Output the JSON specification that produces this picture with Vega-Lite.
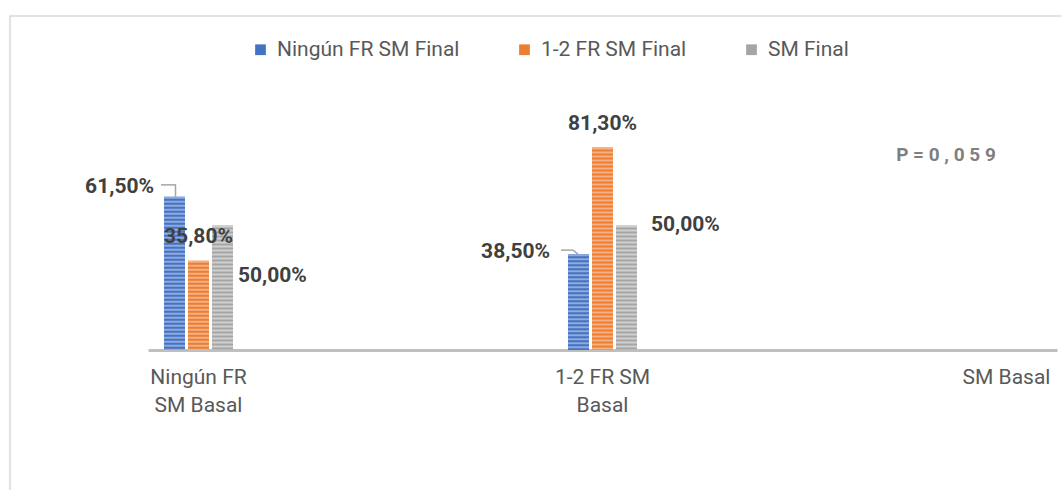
{
  "$schema": "https://vega.github.io/schema/vega-lite/v6.json",
  "width": 1060,
  "height": 480,
  "autosize": {"type": "none"},
  "padding": {"left": 10, "top": 16, "right": 0, "bottom": 0},
  "background": "white",
  "config": {"view": {"stroke": "#d9d9d9", "strokeWidth": 1.5}, "font": "Roboto"},
  "data": {
    "values": [
      {"cat": "Ningún FR SM Basal", "series": "Ningún FR SM Final", "val": 61.5, "label": "61,50%"},
      {"cat": "Ningún FR SM Basal", "series": "1-2 FR SM Final", "val": 35.8, "label": "35,80%"},
      {"cat": "Ningún FR SM Basal", "series": "SM Final", "val": 50.0, "label": "50,00%"},
      {"cat": "1-2 FR SM Basal", "series": "Ningún FR SM Final", "val": 38.5, "label": "38,50%"},
      {"cat": "1-2 FR SM Basal", "series": "1-2 FR SM Final", "val": 81.3, "label": "81,30%"},
      {"cat": "1-2 FR SM Basal", "series": "SM Final", "val": 50.0, "label": "50,00%"}
    ]
  },
  "encoding": {
    "x": {
      "field": "cat",
      "type": "nominal",
      "scale": {
        "domain": ["Ningún FR SM Basal", "1-2 FR SM Basal", "SM Basal"],
        "range": [138, 1047],
        "paddingInner": 0.75,
        "paddingOuter": 0
      },
      "axis": {
        "title": null,
        "domainColor": "#bfbfbf",
        "domainWidth": 3,
        "ticks": false,
        "grid": false,
        "labelAngle": 0,
        "labelFont": "Roboto",
        "labelFontSize": 21,
        "labelColor": "#595959",
        "labelPadding": 16,
        "labelLineHeight": 28,
        "labelLimit": 400,
        "offset": -146,
        "labelExpr": "datum.value == 'Ningún FR SM Basal' ? ['Ningún FR', 'SM Basal'] : datum.value == '1-2 FR SM Basal' ? ['1-2 FR SM', 'Basal'] : datum.value"
      }
    },
    "y": {
      "field": "val",
      "type": "quantitative",
      "scale": {"domain": [0, 100], "range": [334, 85], "nice": false, "zero": true},
      "axis": null
    }
  },
  "layer": [
    {
      "mark": {"type": "bar"},
      "encoding": {
        "xOffset": {
          "field": "series",
          "type": "nominal",
          "scale": {"domain": ["Ningún FR SM Final", "1-2 FR SM Final", "SM Final"], "paddingInner": 0.125, "paddingOuter": 0.667}
        },
        "color": {
          "field": "series",
          "type": "nominal",
          "scale": {"domain": ["Ningún FR SM Final", "1-2 FR SM Final", "SM Final"], "range": ["#4472c4", "#ed7d31", "#a5a5a5"]},
          "legend": {
            "orient": "none",
            "legendX": 240,
            "legendY": 23,
            "direction": "horizontal",
            "title": null,
            "symbolType": "square",
            "symbolSize": 115,
            "symbolStrokeWidth": 0,
            "labelFont": "Roboto",
            "labelFontSize": 21,
            "labelColor": "#595959",
            "labelOffset": 6,
            "labelLimit": 400,
            "columnPadding": 54
          }
        }
      }
    },
    {
      "mark": {"type": "rule", "strokeWidth": 21, "strokeDash": [2, 2]},
      "encoding": {
        "xOffset": {"field": "series", "type": "nominal"},
        "y2": {"datum": 0},
        "stroke": {
          "field": "series",
          "type": "nominal",
          "scale": {"domain": ["Ningún FR SM Final", "1-2 FR SM Final", "SM Final"], "range": ["#8faadc", "#f4b183", "#d0d0d0"]},
          "legend": null
        }
      }
    },
    {
      "transform": [{"filter": "datum.cat == 'Ningún FR SM Basal' && datum.series == 'Ningún FR SM Final'"}],
      "mark": {"type": "rule", "color": "#a6a6a6", "strokeWidth": 1.5, "xOffset": -23, "y2Offset": -12},
      "encoding": {"y2": {"field": "val"}}
    },
    {
      "transform": [{"filter": "datum.cat == 'Ningún FR SM Basal' && datum.series == 'Ningún FR SM Final'"}],
      "mark": {"type": "rule", "color": "#a6a6a6", "strokeWidth": 1.5, "xOffset": -37.5, "x2Offset": -22.5, "yOffset": -12},
      "encoding": {"x2": {"field": "cat"}}
    },
    {
      "transform": [{"filter": "datum.cat == '1-2 FR SM Basal' && datum.series == 'Ningún FR SM Final'"}],
      "mark": {"type": "rule", "color": "#a6a6a6", "strokeWidth": 1.5, "xOffset": -41.5, "x2Offset": -29.5, "yOffset": -4},
      "encoding": {"x2": {"field": "cat"}}
    },
    {
      "transform": [{"filter": "datum.cat == '1-2 FR SM Basal' && datum.series == 'Ningún FR SM Final'"}],
      "mark": {"type": "rule", "color": "#a6a6a6", "strokeWidth": 1.5, "xOffset": -29.5, "x2Offset": -24.5, "yOffset": -4},
      "encoding": {"x2": {"field": "cat"}, "y2": {"field": "val"}}
    },
    {
      "transform": [{"filter": "datum.cat == 'Ningún FR SM Basal' && datum.series == 'Ningún FR SM Final'"}],
      "mark": {"type": "text", "align": "right", "baseline": "middle", "dx": -20.5, "dy": -10, "font": "Roboto", "fontWeight": "bold", "fontSize": 21, "color": "#404040"},
      "encoding": {"xOffset": {"field": "series", "type": "nominal"}, "text": {"field": "label"}}
    },
    {
      "transform": [{"filter": "datum.cat == 'Ningún FR SM Basal' && datum.series == '1-2 FR SM Final'"}],
      "mark": {"type": "text", "align": "center", "baseline": "middle", "dx": 0, "dy": -24, "font": "Roboto", "fontWeight": "bold", "fontSize": 21, "color": "#404040"},
      "encoding": {"xOffset": {"field": "series", "type": "nominal"}, "text": {"field": "label"}}
    },
    {
      "transform": [{"filter": "datum.cat == 'Ningún FR SM Basal' && datum.series == 'SM Final'"}],
      "mark": {"type": "text", "align": "left", "baseline": "middle", "dx": 15.5, "dy": 50, "font": "Roboto", "fontWeight": "bold", "fontSize": 21, "color": "#404040"},
      "encoding": {"xOffset": {"field": "series", "type": "nominal"}, "text": {"field": "label"}}
    },
    {
      "transform": [{"filter": "datum.cat == '1-2 FR SM Basal' && datum.series == 'Ningún FR SM Final'"}],
      "mark": {"type": "text", "align": "right", "baseline": "middle", "dx": -28.5, "dy": -2, "font": "Roboto", "fontWeight": "bold", "fontSize": 21, "color": "#404040"},
      "encoding": {"xOffset": {"field": "series", "type": "nominal"}, "text": {"field": "label"}}
    },
    {
      "transform": [{"filter": "datum.cat == '1-2 FR SM Basal' && datum.series == '1-2 FR SM Final'"}],
      "mark": {"type": "text", "align": "center", "baseline": "middle", "dx": 0, "dy": -24, "font": "Roboto", "fontWeight": "bold", "fontSize": 21, "color": "#404040"},
      "encoding": {"xOffset": {"field": "series", "type": "nominal"}, "text": {"field": "label"}}
    },
    {
      "transform": [{"filter": "datum.cat == '1-2 FR SM Basal' && datum.series == 'SM Final'"}],
      "mark": {"type": "text", "align": "left", "baseline": "middle", "dx": 24.5, "dy": -1, "font": "Roboto", "fontWeight": "bold", "fontSize": 21, "color": "#404040"},
      "encoding": {"xOffset": {"field": "series", "type": "nominal"}, "text": {"field": "label"}}
    },
    {
      "data": {"values": [{"cat": "SM Basal", "val": 78.3, "note": "P = 0 , 0 5 9"}]},
      "mark": {"type": "text", "align": "center", "baseline": "middle", "dx": -60.5, "font": "Roboto", "fontWeight": "bold", "fontSize": 19, "color": "#7f7f7f"},
      "encoding": {
        "text": {"field": "note", "type": "nominal"}
      }
    }
  ]
}
